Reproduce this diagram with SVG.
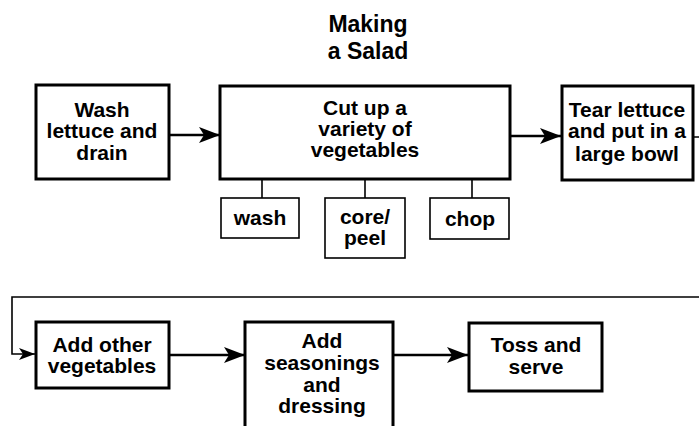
<svg xmlns="http://www.w3.org/2000/svg" width="699" height="426" viewBox="0 0 699 426">
<style>
.box{fill:#fff;stroke:#000;stroke-width:3}
.sub{fill:#fff;stroke:#000;stroke-width:1.6}
.t{font-family:"Liberation Sans",Arial,sans-serif;font-weight:bold;font-size:21px;text-anchor:middle;fill:#000}
.title{font-size:23px}
.arr{fill:none;stroke:#000;stroke-width:2.5}
.thin{fill:none;stroke:#000;stroke-width:1.6}
</style>
<defs>
<marker id="ah" markerUnits="userSpaceOnUse" markerWidth="22" markerHeight="18" viewBox="-22 -9 22 18" refX="0" refY="0" orient="auto">
<path d="M0,0 L-21,-8 L-16,0 L-21,8 Z" fill="#000"/>
</marker>
<marker id="ahs" markerUnits="userSpaceOnUse" markerWidth="18" markerHeight="14" viewBox="-18 -7 18 14" refX="0" refY="0" orient="auto">
<path d="M0,0 L-16,-6 L-12,0 L-16,6 Z" fill="#000"/>
</marker>
</defs>
<g id="title">
<text class="t title" x="368" y="32">Making</text>
<text class="t title" x="368" y="59">a Salad</text>
</g>
<g id="connectors">
<line class="arr" x1="169" y1="135" x2="220" y2="135" marker-end="url(#ah)"/>
<line class="arr" x1="510" y1="136" x2="561" y2="136" marker-end="url(#ah)"/>
<line class="thin" x1="262" y1="179" x2="262" y2="198"/>
<line class="thin" x1="365" y1="179" x2="365" y2="198"/>
<line class="thin" x1="472" y1="179" x2="472" y2="198"/>
<polyline class="thin" points="693,137 702,137 702,297 12,297 12,354 35,354" marker-end="url(#ahs)"/>
<line class="arr" x1="169" y1="355" x2="245" y2="355" marker-end="url(#ah)"/>
<line class="arr" x1="393" y1="355" x2="468" y2="355" marker-end="url(#ah)"/>
</g>
<g id="wash-lettuce">
<rect class="box" x="36" y="85" width="133" height="94"/>
<text class="t" x="102" y="117">Wash</text>
<text class="t" x="102" y="138">lettuce and</text>
<text class="t" x="102" y="160">drain</text>
</g>
<g id="cut-up">
<rect class="box" x="220" y="86" width="290" height="93"/>
<text class="t" x="365" y="115">Cut up a</text>
<text class="t" x="365" y="136">variety of</text>
<text class="t" x="365" y="157">vegetables</text>
</g>
<g id="tear-lettuce">
<rect class="box" x="562" y="86" width="131" height="94"/>
<text class="t" x="627" y="117">Tear lettuce</text>
<text class="t" x="627" y="138">and put in a</text>
<text class="t" x="627" y="161">large bowl</text>
</g>
<g id="wash">
<rect class="sub" x="221" y="198" width="78" height="40"/>
<text class="t" x="260" y="225">wash</text>
</g>
<g id="core-peel">
<rect class="sub" x="325" y="198" width="80" height="60"/>
<text class="t" x="365" y="224">core/</text>
<text class="t" x="365" y="245">peel</text>
</g>
<g id="chop">
<rect class="sub" x="430" y="198" width="79" height="41"/>
<text class="t" x="470" y="226">chop</text>
</g>
<g id="add-other">
<rect class="box" x="36" y="322" width="133" height="66"/>
<text class="t" x="102" y="352">Add other</text>
<text class="t" x="102" y="373">vegetables</text>
</g>
<g id="add-seasonings">
<rect class="box" x="245" y="322" width="148" height="120"/>
<text class="t" x="322" y="348">Add</text>
<text class="t" x="322" y="370">seasonings</text>
<text class="t" x="322" y="392">and</text>
<text class="t" x="322" y="413">dressing</text>
</g>
<g id="toss-serve">
<rect class="box" x="469" y="323" width="133" height="68"/>
<text class="t" x="536" y="352">Toss and</text>
<text class="t" x="536" y="374">serve</text>
</g>
</svg>
